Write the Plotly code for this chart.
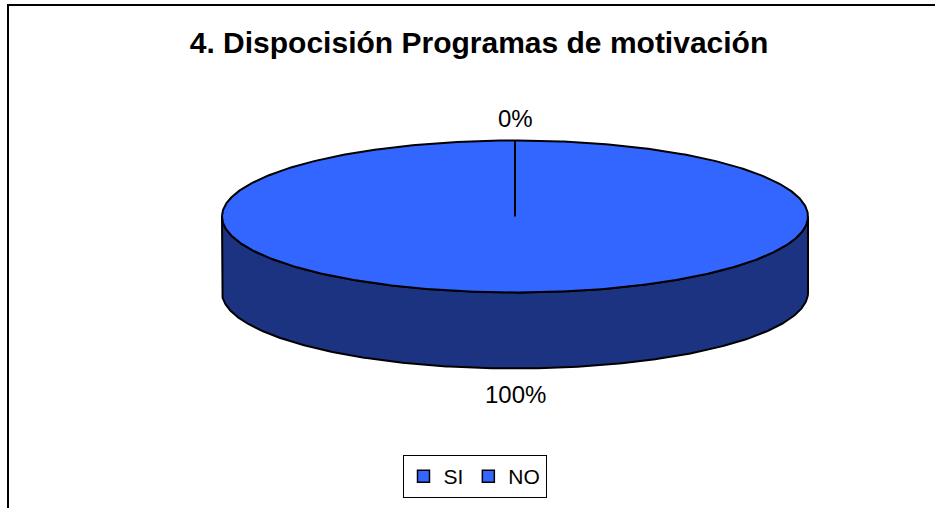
import numpy as np
import plotly.graph_objects as go

# ---- data ----
categories = ["SI", "NO"]
values = [100, 0]
pct_labels = ["100%", "0%"]
top_colors = ["#3366FF", "#3366FF"]
side_colors = ["#1B3380", "#1B3380"]
chart_title = "4. Dispocisión Programas de motivación"

# ---- layout geometry (pixels) ----
W, H = 935, 508
cx, cy = 515, 216.5
rx, ry = 293, 76
depth = 76
FONT = "Liberation Sans, Arial, sans-serif"


def ell(a):
    a = np.asarray(a)
    return cx + rx * np.sin(a), cy - ry * np.cos(a)


def px2paper_x(x):
    return x / W


def px2paper_y(y):
    return 1 - y / H


fig = go.Figure()
total = float(sum(values))
cum = np.cumsum([0] + values) / total * 2 * np.pi
starts, ends = cum[:-1], cum[1:]

# sides (front half only: angles between pi/2 and 3pi/2)
for i, cat in enumerate(categories):
    lo, hi = max(starts[i], np.pi / 2), min(ends[i], 3 * np.pi / 2)
    if hi > lo:
        arc = np.linspace(lo, hi, 300)
        xs, ys = ell(arc)
        px = np.concatenate([xs, xs[::-1], xs[:1]])
        py = np.concatenate([ys, (ys + depth)[::-1], ys[:1]])
        fig.add_trace(go.Scatter(x=px, y=py, mode="lines", fill="toself",
                                 fillcolor=side_colors[i],
                                 line=dict(color="black", width=2),
                                 showlegend=False, hoverinfo="skip"))

# tops
for i, cat in enumerate(categories):
    if ends[i] > starts[i]:
        arc = np.linspace(starts[i], ends[i], 600)
        xs, ys = ell(arc)
        px = np.concatenate([[cx], xs, [cx]])
        py = np.concatenate([[cy], ys, [cy]])
        fig.add_trace(go.Scatter(x=px, y=py, mode="lines", fill="toself",
                                 fillcolor=top_colors[i],
                                 line=dict(color="black", width=2),
                                 showlegend=False, hoverinfo="skip"))

# legend entries
for i, cat in enumerate(categories):
    fig.add_trace(go.Scatter(x=[None], y=[None], mode="markers", name=cat,
                             marker=dict(symbol="square", size=12, color=top_colors[i],
                                         line=dict(color="black", width=1.5))))

# data labels
annotations = []
for i, cat in enumerate(categories):
    mid = (starts[i] + ends[i]) / 2
    c = np.cos(mid)
    if c >= 0:
        lx = cx + (rx + 22.5) * np.sin(mid)
        ly = cy - (ry + 22.5) * c
    else:
        lx = cx + (rx + 25.5) * np.sin(mid)
        ly = cy - (ry + 25.5) * c + depth
    annotations.append(dict(x=lx, y=ly, text=pct_labels[i], showarrow=False,
                            xanchor="center", yanchor="middle",
                            font=dict(family=FONT, size=24, color="black")))

fig.update_layout(
    width=W, height=H,
    margin=dict(l=0, r=0, t=0, b=0),
    paper_bgcolor="white", plot_bgcolor="white",
    xaxis=dict(range=[0, W], visible=False, fixedrange=True),
    yaxis=dict(range=[H, 0], visible=False, fixedrange=True),
    title=dict(text=chart_title, x=px2paper_x(479), y=px2paper_y(42),
               xanchor="center", yanchor="middle",
               font=dict(family=FONT, size=30, color="black", weight="bold")),
    legend=dict(orientation="h", x=px2paper_x(474.5), xanchor="center",
                y=px2paper_y(498), yanchor="bottom",
                bordercolor="black", borderwidth=1, bgcolor="white",
                font=dict(family=FONT, size=21, color="black"),
                itemwidth=30, tracegroupgap=0),
    annotations=annotations,
    shapes=[dict(type="rect", xref="x", yref="y", x0=8, y0=5, x1=960, y1=540,
                 line=dict(color="black", width=2), layer="below")],
    showlegend=True,
    hovermode=False,
)

fig.write_html("out.html", config={"displayModeBar": False, "staticPlot": False},
               post_script="document.body.style.margin='0';")
